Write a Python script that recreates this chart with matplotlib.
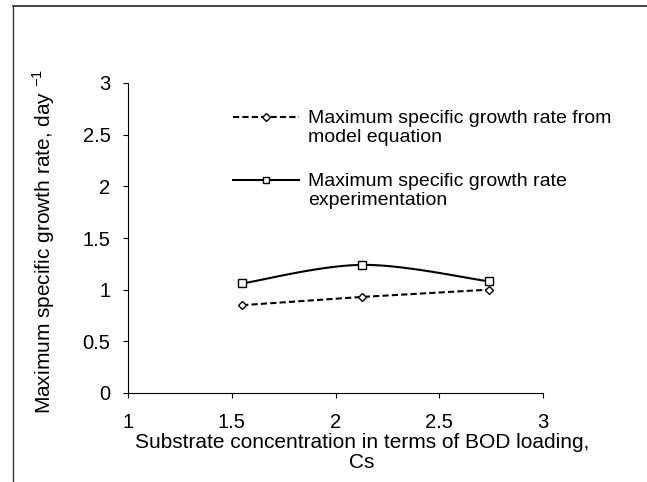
import numpy as np
import matplotlib
matplotlib.use("Agg")
import matplotlib.pyplot as plt
from matplotlib.lines import Line2D

plt.rcParams['font.family'] = ['Liberation Sans', 'DejaVu Sans']
plt.rcParams['mathtext.fontset'] = 'custom'
plt.rcParams['mathtext.rm'] = 'Liberation Sans'

# Data
substrate = [1.55, 2.13, 2.74]
model_rate = [0.85, 0.93, 1.00]
exp_rate = [1.06, 1.24, 1.08]
label_model = ["Maximum specific growth rate from", "model equation"]
label_exp = ["Maximum specific growth rate", "experimentation"]
xticks = [1, 1.5, 2, 2.5, 3]
yticks = [0, 0.5, 1, 1.5, 2, 2.5, 3]

W, H = 647, 482
DASH = (0, (3.0, 1.5))


def smooth(xs, ys, n=60, t=0.5):
    # Catmull-Rom style smoothing through the points (Excel-like smoothed line)
    xs = np.asarray(xs, float); ys = np.asarray(ys, float)
    px = np.concatenate([[xs[0]], xs, [xs[-1]]])
    py = np.concatenate([[ys[0]], ys, [ys[-1]]])
    ox, oy = [], []
    for i in range(1, len(px) - 2):
        p0 = np.array([px[i-1], py[i-1]]); p1 = np.array([px[i], py[i]])
        p2 = np.array([px[i+1], py[i+1]]); p3 = np.array([px[i+2], py[i+2]])
        c1 = p1 + (p2 - p0) * t / 3
        c2 = p2 - (p3 - p1) * t / 3
        s = np.linspace(0, 1, n)[:, None]
        b = (1-s)**3*p1 + 3*(1-s)**2*s*c1 + 3*(1-s)*s**2*c2 + s**3*p2
        ox.extend(b[:, 0]); oy.extend(b[:, 1])
    return np.array(ox), np.array(oy)


def fx(px):
    return px / W


def fy(py):
    return 1 - py / H


fig = plt.figure(figsize=(W/100, H/100), dpi=100)
ax = fig.add_axes([fx(128), fy(393), (543-128)/W, (393-83)/H])

ax.plot(substrate, model_rate, color='black', linestyle=DASH, linewidth=1.5,
        marker='D', markersize=4, markerfacecolor='white', markeredgecolor='black',
        markeredgewidth=1.0)
sx, sy = smooth(substrate, exp_rate)
ax.plot(sx, sy, color='black', linewidth=1.5)
ax.plot(substrate, exp_rate, linestyle='none', marker='s', markersize=5.5,
        markerfacecolor='white', markeredgecolor='black', markeredgewidth=1.0)

ax.set_xlim(1, 3)
ax.set_ylim(0, 3)
ax.set_xticks(xticks)
ax.set_xticklabels([f"{v:g}" for v in xticks])
ax.set_yticks(yticks)
ax.set_yticklabels([f"{v:g}" for v in yticks])
ax.tick_params(direction='out', length=3.6, width=0.8, labelsize=14.5, colors='black')
ax.tick_params(axis='x', pad=10.5)
ax.tick_params(axis='y', pad=9)
for s in ['top', 'right']:
    ax.spines[s].set_visible(False)
for s in ['left', 'bottom']:
    ax.spines[s].set_linewidth(0.8)

ax.set_xlabel("Substrate concentration in terms of BOD loading,\nCs", fontsize=15,
              linespacing=1.1)
ax.xaxis.set_label_coords((362-128)/415, (393-433)/310)
ax.set_ylabel("Maximum specific growth rate, day $^{\\mathregular{-1}}$", fontsize=15,
              va='center')
ax.yaxis.set_label_coords((44-128)/415, (393-241)/310)

# legend (drawn manually so the key sits beside the first line, as in the source)
entries = [
    (label_model, dict(linestyle=DASH, marker='D', markersize=4), 117, 123),
    (label_exp, dict(linestyle='-', marker='s', markersize=5), 180, 186),
]
for lines, style, hy, base in entries:
    fig.add_artist(Line2D([fx(233), fx(299)], [fy(hy), fy(hy)], transform=fig.transFigure,
                          color='black', linewidth=1.5, markerfacecolor='white',
                          markeredgecolor='black', markevery=[], **style))
    fig.add_artist(Line2D([fx(266)], [fy(hy)], transform=fig.transFigure,
                          linestyle='none', marker=style['marker'],
                          markersize=style['markersize'], markerfacecolor='white',
                          markeredgecolor='black', markeredgewidth=1.0))
    for k, t in enumerate(lines):
        fig.text(fx(308), fy(base + 19*k), t, fontsize=14, va='baseline', ha='left')

# outer frame (left and top)
fig.add_artist(Line2D([fx(13), fx(13)], [0, fy(6)], transform=fig.transFigure,
                      color='#333333', linewidth=1.0))
fig.add_artist(Line2D([fx(13), 1], [fy(6), fy(6)], transform=fig.transFigure,
                      color='#222222', linewidth=1.2))

fig.savefig("out.png", dpi=100)
